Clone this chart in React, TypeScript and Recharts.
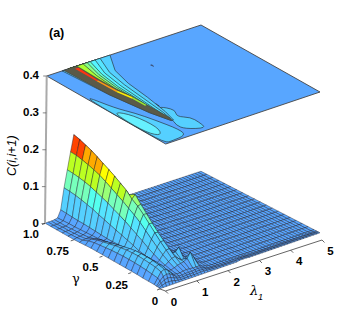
import { Scatter, ScatterChart, XAxis, YAxis } from 'recharts';

// C(i,i+1), one row per gamma, lambda = 0, 0.1, ... 2.4
const gammaRows = [1, 0.95, 0.9, 0.85, 0.8, 0.75, 0.7, 0.65, 0.6, 0.55, 0.5, 0.45, 0.4, 0.35, 0.3, 0.25, 0.2, 0.15, 0.1, 0.05, 0.03, 0.02, 0.01, 0];
const lambdaCols = [0, 0.1, 0.2, 0.3, 0.4, 0.5, 0.6, 0.7, 0.8, 0.9, 1, 1.1, 1.2, 1.3, 1.4, 1.5, 1.6, 1.7, 1.8, 1.9, 2, 2.1, 2.2, 2.3, 2.4,
  2.5, 2.6, 2.7, 2.8, 2.9, 3, 3.1, 3.2, 3.3, 3.4, 3.5, 3.6, 3.7, 3.8, 3.9, 4, 4.1, 4.2, 4.3, 4.4, 4.5, 4.6, 4.7, 4.8, 4.9, 5];
const flatTail = [0.003, 0.003, 0.003, 0.002, 0.002, 0.002, 0.002, 0.002, 0.002, 0.002, 0.002, 0.002, 0.002, 0.002, 0.002, 0.002, 0.002, 0.002, 0.002, 0.002, 0.002, 0.002, 0.002, 0.002, 0.002, 0.002];
const surfaceRows = [
  [0.001, 0.001, 0.001, 0.002, 0.004, 0.023, 0.08, 0.126, 0.172, 0.216, 0.19, 0.155, 0.115, 0.09, 0.07, 0.056, 0.046, 0.038, 0.031, 0.025, 0.021, 0.018, 0.014, 0.011, 0.008],
  [0.001, 0.001, 0.001, 0.002, 0.005, 0.022, 0.079, 0.125, 0.171, 0.212, 0.186, 0.15, 0.112, 0.086, 0.066, 0.052, 0.042, 0.034, 0.026, 0.021, 0.017, 0.014, 0.011, 0.009, 0.007],
  [0.001, 0.001, 0.002, 0.002, 0.006, 0.021, 0.077, 0.123, 0.168, 0.206, 0.18, 0.145, 0.108, 0.08, 0.06, 0.047, 0.037, 0.029, 0.021, 0.017, 0.014, 0.011, 0.009, 0.007, 0.006],
  [0.001, 0.002, 0.002, 0.003, 0.006, 0.02, 0.074, 0.12, 0.164, 0.2, 0.174, 0.138, 0.102, 0.074, 0.054, 0.041, 0.031, 0.021, 0.016, 0.013, 0.011, 0.009, 0.008, 0.006, 0.005],
  [0.001, 0.002, 0.003, 0.004, 0.007, 0.02, 0.07, 0.116, 0.159, 0.192, 0.168, 0.13, 0.095, 0.068, 0.048, 0.035, 0.022, 0.017, 0.014, 0.011, 0.009, 0.008, 0.007, 0.006, 0.005],
  [0.001, 0.003, 0.004, 0.005, 0.008, 0.019, 0.066, 0.11, 0.153, 0.183, 0.16, 0.122, 0.088, 0.062, 0.043, 0.021, 0.017, 0.014, 0.011, 0.009, 0.008, 0.007, 0.006, 0.005, 0.004],
  [0.002, 0.005, 0.006, 0.007, 0.009, 0.018, 0.06, 0.104, 0.145, 0.175, 0.152, 0.115, 0.08, 0.05, 0.022, 0.016, 0.013, 0.011, 0.009, 0.008, 0.007, 0.006, 0.005, 0.004, 0.004],
  [0.003, 0.012, 0.014, 0.012, 0.01, 0.017, 0.055, 0.098, 0.136, 0.166, 0.144, 0.107, 0.07, 0.038, 0.019, 0.014, 0.011, 0.009, 0.008, 0.007, 0.006, 0.005, 0.004, 0.004, 0.003],
  [0.004, 0.016, 0.02, 0.018, 0.013, 0.016, 0.05, 0.09, 0.127, 0.156, 0.136, 0.098, 0.06, 0.03, 0.017, 0.012, 0.01, 0.008, 0.007, 0.006, 0.005, 0.004, 0.004, 0.003, 0.003],
  [0.004, 0.018, 0.024, 0.022, 0.016, 0.016, 0.045, 0.083, 0.118, 0.146, 0.13, 0.09, 0.05, 0.024, 0.015, 0.011, 0.009, 0.007, 0.006, 0.005, 0.004, 0.004, 0.003, 0.003, 0.003],
  [0.004, 0.02, 0.028, 0.027, 0.02, 0.017, 0.04, 0.075, 0.108, 0.13, 0.14, 0.08, 0.04, 0.021, 0.013, 0.01, 0.008, 0.006, 0.005, 0.004, 0.004, 0.003, 0.003, 0.003, 0.003],
  [0.004, 0.022, 0.032, 0.031, 0.023, 0.018, 0.035, 0.066, 0.098, 0.12, 0.122, 0.074, 0.036, 0.02, 0.012, 0.009, 0.007, 0.006, 0.005, 0.004, 0.004, 0.003, 0.003, 0.003, 0.003],
  [0.004, 0.023, 0.035, 0.035, 0.026, 0.019, 0.03, 0.057, 0.087, 0.106, 0.105, 0.065, 0.032, 0.018, 0.011, 0.008, 0.006, 0.005, 0.004, 0.004, 0.003, 0.003, 0.003, 0.003, 0.003],
  [0.004, 0.024, 0.038, 0.039, 0.03, 0.019, 0.024, 0.048, 0.073, 0.09, 0.088, 0.056, 0.028, 0.017, 0.01, 0.007, 0.006, 0.005, 0.004, 0.003, 0.003, 0.003, 0.003, 0.003, 0.003],
  [0.004, 0.024, 0.039, 0.042, 0.033, 0.02, 0.021, 0.038, 0.059, 0.074, 0.072, 0.046, 0.025, 0.018, 0.01, 0.007, 0.005, 0.004, 0.004, 0.003, 0.003, 0.003, 0.003, 0.003, 0.003],
  [0.004, 0.024, 0.04, 0.043, 0.035, 0.022, 0.018, 0.03, 0.046, 0.058, 0.058, 0.036, 0.018, 0.012, 0.01, 0.007, 0.005, 0.004, 0.003, 0.003, 0.003, 0.003, 0.003, 0.003, 0.003],
  [0.004, 0.023, 0.039, 0.043, 0.036, 0.023, 0.016, 0.022, 0.034, 0.044, 0.045, 0.03, 0.03, 0.04, 0.016, 0.008, 0.005, 0.004, 0.003, 0.003, 0.003, 0.003, 0.003, 0.003, 0.003],
  [0.003, 0.022, 0.038, 0.042, 0.036, 0.024, 0.015, 0.017, 0.024, 0.03, 0.032, 0.024, 0.018, 0.014, 0.012, 0.01, 0.006, 0.004, 0.003, 0.003, 0.003, 0.003, 0.003, 0.003, 0.003],
  [0.003, 0.02, 0.036, 0.04, 0.035, 0.024, 0.014, 0.013, 0.016, 0.02, 0.022, 0.024, 0.03, 0.044, 0.028, 0.01, 0.007, 0.004, 0.003, 0.003, 0.003, 0.003, 0.003, 0.003, 0.003],
  [0.003, 0.018, 0.032, 0.036, 0.031, 0.022, 0.013, 0.011, 0.011, 0.013, 0.014, 0.013, 0.012, 0.012, 0.012, 0.008, 0.006, 0.004, 0.003, 0.003, 0.003, 0.003, 0.003, 0.003, 0.003],
  [0.002, 0.013, 0.023, 0.026, 0.024, 0.018, 0.011, 0.009, 0.009, 0.01, 0.01, 0.01, 0.011, 0.012, 0.01, 0.007, 0.005, 0.003, 0.003, 0.003, 0.003, 0.003, 0.003, 0.003, 0.003],
  [0.002, 0.009, 0.015, 0.017, 0.016, 0.012, 0.008, 0.006, 0.006, 0.007, 0.007, 0.007, 0.008, 0.008, 0.007, 0.006, 0.004, 0.003, 0.003, 0.002, 0.002, 0.002, 0.002, 0.002, 0.002],
  [0.001, 0.005, 0.008, 0.009, 0.008, 0.006, 0.004, 0.003, 0.003, 0.004, 0.004, 0.004, 0.004, 0.005, 0.005, 0.004, 0.003, 0.002, 0.002, 0.002, 0.002, 0.002, 0.002, 0.002, 0.002],
  [0.001, 0.001, 0.001, 0.001, 0.001, 0.001, 0.001, 0.001, 0.001, 0.001, 0.001, 0.001, 0.001, 0.001, 0.001, 0.001, 0.001, 0.001, 0.001, 0.001, 0.001, 0.001, 0.001, 0.001, 0.001],
];

const bandLimits = [0.022, 0.04, 0.06, 0.08, 0.095, 0.115, 0.13, 0.15, 0.17, 0.185];
const bandColors = ['#58a6ff', '#55c4ff', '#55d0ff', '#55e4ff', '#55ffee', '#77ffbb', '#99ff77', '#bbff22', '#ffff00', '#ffaa00', '#ff4400'];

// contour map on the z = 0.4 plane, [lambda, gamma] outlines
const plateOutline = [[0, 1], [0, 0], [5, 0], [5, 1]];
const stripOuter = [[0.06, 0.7], [0.25, 0.49], [0.48, 0.38], [0.63, 0.26], [0.8, 0.09], [0.72, 0.02], [0.26, 0.01], [0.02, 0.01], [0.01, 0.3], [0.01, 0.55]];
const stripInner = [[0.1, 0.46], [0.36, 0.37], [0.44, 0.18], [0.22, 0.09], [0.02, 0.16], [0.02, 0.37]];
const tailPatch = [[1.2, 0.37], [1.42, 0.29], [1.2, 0.22], [1.46, 0.17], [1.46, 0.1], [1.4, 0.02], [0.94, 0.08], [0.88, 0.14], [1.04, 0.22], [1.1, 0.32]];
const speckA = [[1.16, 0.41], [1.24, 0.4], [1.22, 0.37]];
const speckB = [[1.08, 0.36], [1.14, 0.36], [1.12, 0.33]];
const speckC = [[2.52, 0.78], [2.56, 0.78], [2.54, 0.76]];
const contourOutlines = [
  [[2.05, 1], [1.6, 0.84], [1.41, 0.68], [1.3, 0.49], [1.15, 0.3], [1.02, 0.2], [0.95, 0.2], [0.79, 0.34], [0.61, 0.63], [0.5, 1]],
  [[1.73, 1], [1.42, 0.84], [1.28, 0.68], [1.18, 0.49], [1.08, 0.3], [1.0, 0.22], [0.93, 0.3], [0.88, 0.5], [0.8, 0.7], [0.7, 1]],
  [[1.57, 1], [1.3, 0.85], [1.17, 0.68], [1.1, 0.52], [1.03, 0.35], [1, 0.26], [0.93, 0.35], [0.88, 0.55], [0.8, 0.75], [0.7, 1]],
  [[1.41, 1], [1.2, 0.85], [1.08, 0.68], [1.04, 0.52], [0.99, 0.36], [0.98, 0.3], [0.9, 0.5], [0.8, 0.75], [0.7, 1]],
  [[1.31, 1], [1.12, 0.85], [1.02, 0.68], [0.99, 0.52], [0.97, 0.38], [0.9, 0.55], [0.8, 0.75], [0.7, 1]],
  [[1.18, 1], [1.04, 0.85], [0.96, 0.68], [0.96, 0.52], [0.95, 0.48], [0.88, 0.6], [0.8, 0.75], [0.7, 1]],
];
const contourColors = ['#55d0ff', '#55e4ff', '#55f4ff', '#66ffcc', '#88ff88', '#aaff33'];
const ridgeShade = [[0.55, 1], [0.98, 1], [0.95, 0.8], [0.95, 0.66], [1.02, 0.55], [1.02, 0.42], [1.03, 0.24], [0.99, 0.2], [0.95, 0.2], [0.79, 0.34], [0.61, 0.63]];
const ribbonRed = [[0.84, 0.98], [0.95, 0.98], [0.9, 0.8], [0.84, 0.8]];
const ribbonOrange = [[0.84, 0.8], [0.9, 0.8], [0.92, 0.64], [0.85, 0.64]];
const ribbonYellow = [[0.85, 0.64], [0.92, 0.64], [1, 0.54], [0.94, 0.52]];
const ribbonGreen = [[0.94, 0.52], [1, 0.54], [1, 0.42], [0.95, 0.42]];

const zTicks = [0, 0.1, 0.2, 0.3, 0.4];
const zTickLabels = ['0', '0.1', '0.2', '0.3', '0.4'];
const gammaTicks = [1, 0.75, 0.5, 0.25, 0];
const gammaTickLabels = ['1.0', '0.75', '0.5', '0.25', '0'];
const lambdaTicks = [0, 1, 2, 3, 4, 5];

// view: screen corners of the floor and of the z = 0.4 plane
const floor = { a: [45, 223.5], b: [160, 289], c: [320, 233.5], d: [201, 172] };
const roof = { a: [46.7, 76], b: [165.7, 144], c: [320, 92], d: [201, 25] };

function corner(q, l, g) {
  const u = l / 5;
  const t = 1 - g;
  return [0, 1].map((i) => (1 - u) * ((1 - t) * q.a[i] + t * q.b[i]) + u * ((1 - t) * q.d[i] + t * q.c[i]));
}

function project(l, g, z) {
  const f = corner(floor, l, g);
  const r = corner(roof, l, g);
  const s = z / 0.4;
  return { x: f[0] + s * (r[0] - f[0]), y: f[1] + s * (r[1] - f[1]) };
}

function bandColor(z) {
  const i = bandLimits.findIndex((v) => z < v);
  return bandColors[i < 0 ? bandColors.length - 1 : i];
}

const polys = [];
const verts = [];
function addPoly(points, fill, stroke, width, smooth = false) {
  polys.push({ n: points.length, fill, stroke, width, smooth });
  verts.push(...points);
}

const heights = surfaceRows.map((r) => r.concat(flatTail));

// far cells first so the near ones paint over them
for (let r = 0; r < gammaRows.length - 1; r++) {
  for (let c = lambdaCols.length - 2; c >= 0; c--) {
    const g0 = gammaRows[r];
    const g1 = gammaRows[r + 1];
    const l0 = lambdaCols[c];
    const l1 = lambdaCols[c + 1];
    const mean = (heights[r][c] + heights[r][c + 1] + heights[r + 1][c] + heights[r + 1][c + 1]) / 4;
    addPoly(
      [project(l0, g0, heights[r][c]), project(l1, g0, heights[r][c + 1]), project(l1, g1, heights[r + 1][c + 1]), project(l0, g1, heights[r + 1][c])],
      bandColor(mean),
      '#1a1a2a',
      0.42,
    );
  }
}

function addRoof(outline, fill, stroke, width, smooth = false) {
  addPoly(outline.map(([l, g]) => project(l, g, 0.4)), fill, stroke, width, smooth);
}

addRoof(plateOutline, '#58a6ff', '#444', 0.9);
addRoof(stripOuter, '#55d0ff', '#222', 0.6, true);
addRoof(stripInner, '#66f0ff', '#222', 0.6, true);
addRoof(tailPatch, '#55d0ff', '#222', 0.6, true);
addRoof(speckA, 'none', '#222', 0.6);
addRoof(speckB, 'none', '#222', 0.6);
addRoof(speckC, 'none', '#334', 0.6);
contourOutlines.forEach((o, i) => addRoof(o, contourColors[i], '#222', 0.6));
addRoof(ridgeShade, '#5a5a48', '#333', 0.4);
addRoof(ribbonRed, '#ff3311', 'none', 0);
addRoof(ribbonOrange, '#ff9911', 'none', 0);
addRoof(ribbonYellow, '#ffee00', 'none', 0);
addRoof(ribbonGreen, '#99ee33', 'none', 0);

// axes: [from, to] pairs
const axisPolys = [];
const axisVerts = [];
function addSeg(p, q, stroke, width) {
  axisPolys.push({ n: 2, fill: 'none', stroke, width });
  axisVerts.push(p, q);
}
const lambdaStart = { x: 165.5, y: 291 };
const lambdaEnd = { x: 322, y: 240 };
const lambdaAt = (l) => ({ x: lambdaStart.x + (l / 5) * (lambdaEnd.x - lambdaStart.x), y: lambdaStart.y + (l / 5) * (lambdaEnd.y - lambdaStart.y) });

addSeg(project(0, 1, 0), project(0, 1, 0.4), '#aaa', 2);
zTicks.forEach((z) => {
  const p = project(0, 1, z);
  addSeg({ x: p.x - 3.5, y: p.y }, p, '#555', 0.7);
});
addSeg(lambdaStart, lambdaEnd, '#222', 0.7);
addSeg(lambdaStart, project(0, 0, 0), '#222', 0.7);
lambdaTicks.forEach((l) => {
  const p = lambdaAt(l);
  addSeg(p, { x: p.x + 2.5, y: p.y + 2.5 }, '#222', 0.7);
});
gammaTicks.forEach((g) => {
  const p = project(0, g, 0);
  addSeg(p, { x: p.x - 3, y: p.y + 1 }, '#222', 0.7);
});

const gammaOffsets = [[-14, 10.5], [-16, 11], [-12, 11], [-14.5, 12], [-5, 12]];
const tickText = [
  ...zTicks.map((z, i) => {
    const p = project(0, 1, z);
    return { x: 39, y: p.y - 1, text: zTickLabels[i], anchor: 'end' };
  }),
  ...gammaTicks.map((g, i) => {
    const p = project(0, g, 0);
    return { x: p.x + gammaOffsets[i][0], y: p.y + gammaOffsets[i][1], text: gammaTickLabels[i], anchor: 'middle' };
  }),
  ...lambdaTicks.map((l) => {
    const p = lambdaAt(l);
    return { x: p.x + 8.5, y: p.y + 11, text: String(l), anchor: 'middle' };
  }),
];

function polyPath(pts, p) {
  if (p.smooth) {
    const mid = (a, b) => `${((a.x + b.x) / 2).toFixed(2)} ${((a.y + b.y) / 2).toFixed(2)}`;
    let d = `M${mid(pts[pts.length - 1], pts[0])}`;
    pts.forEach((v, j) => {
      d += `Q${v.x.toFixed(2)} ${v.y.toFixed(2)} ${mid(v, pts[(j + 1) % pts.length])}`;
    });
    return d + 'Z';
  }
  return pts.map((v, j) => `${j ? 'L' : 'M'}${v.x.toFixed(2)} ${v.y.toFixed(2)}`).join('') + (p.n > 2 ? 'Z' : '');
}

function polyRenderer(list) {
  return function PolyLines({ points }) {
    let at = 0;
    return (
      <g>
        {list.map((p, i) => {
          const pts = points.slice(at, at + p.n);
          at += p.n;
          return <path key={i} d={polyPath(pts, p)} fill={p.fill} stroke={p.stroke} strokeWidth={p.width} strokeLinejoin="round" />;
        })}
      </g>
    );
  };
}

function NoDot() {
  return <g />;
}

function TickText({ cx, cy, payload }) {
  return (
    <text x={cx} y={cy} textAnchor={payload.anchor} dominantBaseline="central" fontFamily="Liberation Sans" fontWeight="bold" fontSize={11.5} fill="#000">
      {payload.text}
    </text>
  );
}

export default function App() {
  return (
    <div style={{ position: 'absolute', left: 0, top: 0, background: '#fff' }}>
      <ScatterChart width={354} height={328} margin={{ top: 0, right: 0, bottom: 0, left: 0 }}>
        <XAxis type="number" dataKey="x" domain={[0, 354]} hide />
        <YAxis type="number" dataKey="y" domain={[0, 328]} reversed hide />
        <Scatter data={verts} line={polyRenderer(polys)} shape={NoDot} isAnimationActive={false} />
        <Scatter data={axisVerts} line={polyRenderer(axisPolys)} shape={NoDot} isAnimationActive={false} />
        <Scatter data={tickText} shape={TickText} isAnimationActive={false} />
        <text x={49} y={37} fontFamily="Liberation Sans" fontWeight="bold" fontSize={12.5}>(a)</text>
        <text x={16} y={176} transform="rotate(-90 16 176)" fontFamily="Liberation Sans" fontStyle="italic" fontSize={12.5}>C(i,i+1)</text>
        <text x={72} y={283} fontFamily="DejaVu Serif" fontSize={13}>γ</text>
        <text x={250} y={295} fontFamily="DejaVu Serif" fontStyle="italic" fontSize={13}>λ</text>
        <text x={258} y={300} fontFamily="Liberation Sans" fontStyle="italic" fontSize={9}>1</text>
      </ScatterChart>
    </div>
  );
}
